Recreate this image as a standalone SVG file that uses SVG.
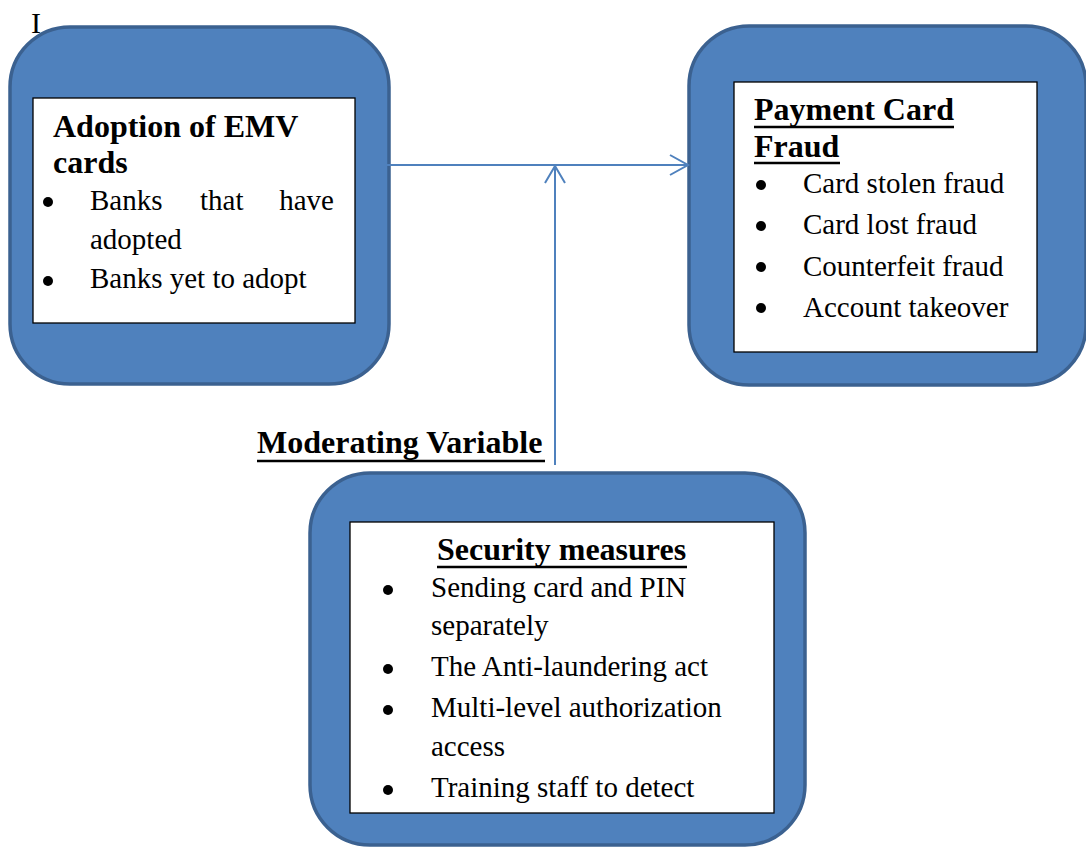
<svg xmlns="http://www.w3.org/2000/svg" width="1086" height="848" viewBox="0 0 1086 848">
<style>
.outer{fill:#4F81BD;stroke:#3B6190;stroke-width:3.5}
.inner{fill:#FFFFFF;stroke:#000000;stroke-width:1.3}
.h{font-family:"Liberation Serif","Times New Roman",serif;font-size:32px;font-weight:bold;fill:#000}
.t{font-family:"Liberation Serif","Times New Roman",serif;font-size:29px;fill:#000}
.b{fill:#000}
.u{stroke:#000;stroke-width:2.5}
.c{fill:none;stroke:#4F81BD;stroke-width:2}
</style>
<rect width="1086" height="848" fill="#FFFFFF"/>
<text class="t" x="31" y="33" style="font-size:30px">I</text>
<g id="node-adoption">
<rect class="outer" x="10" y="27" width="379" height="357" rx="60" ry="60"/>
<rect class="inner" x="33" y="98" width="322" height="225"/>
<text class="h" x="53" y="137">Adoption of EMV</text>
<text class="h" x="53" y="173">cards</text>
<circle class="b" cx="48" cy="202" r="5"/>
<text class="t" x="90" y="210">Banks</text>
<text class="t" x="200" y="210">that</text>
<text class="t" x="334" y="210" text-anchor="end">have</text>
<text class="t" x="90" y="249">adopted</text>
<circle class="b" cx="48" cy="281" r="5"/>
<text class="t" x="90" y="288">Banks yet to adopt</text>
</g>
<g id="node-fraud">
<rect class="outer" x="689" y="26" width="397" height="359" rx="60" ry="60"/>
<rect class="inner" x="734" y="82" width="303" height="270"/>
<text class="h" x="754" y="120">Payment Card</text>
<line class="u" x1="754" y1="127" x2="954" y2="127"/>
<text class="h" x="754" y="157">Fraud</text>
<line class="u" x1="754" y1="163" x2="840" y2="163"/>
<circle class="b" cx="761" cy="185" r="5"/>
<text class="t" x="803" y="193">Card stolen fraud</text>
<circle class="b" cx="761" cy="226" r="5"/>
<text class="t" x="803" y="234">Card lost fraud</text>
<circle class="b" cx="761" cy="267" r="5"/>
<text class="t" x="803" y="276">Counterfeit fraud</text>
<circle class="b" cx="761" cy="308" r="5"/>
<text class="t" x="803" y="317">Account takeover</text>
</g>
<g id="node-security">
<rect class="outer" x="310" y="473" width="495" height="372" rx="60" ry="60"/>
<rect class="inner" x="350" y="522" width="424" height="291"/>
<text class="h" x="437" y="560">Security measures</text>
<line class="u" x1="437" y1="567" x2="687" y2="567"/>
<circle class="b" cx="388" cy="590" r="5"/>
<text class="t" x="431" y="597">Sending card and PIN</text>
<text class="t" x="431" y="635">separately</text>
<circle class="b" cx="388" cy="669" r="5"/>
<text class="t" x="431" y="676">The Anti-laundering act</text>
<circle class="b" cx="388" cy="710" r="5"/>
<text class="t" x="431" y="717">Multi-level authorization</text>
<text class="t" x="431" y="756">access</text>
<circle class="b" cx="388" cy="790" r="5"/>
<text class="t" x="431" y="797">Training staff to detect</text>
</g>
<g id="label-moderating">
<text class="h" x="257" y="453">Moderating Variable</text>
<line class="u" x1="257" y1="461" x2="545" y2="461"/>
</g>
<g id="connectors">
<line class="c" x1="356" y1="165" x2="687" y2="165"/>
<polyline class="c" points="670,155 688,165 670,175"/>
<line class="c" x1="555" y1="465" x2="555" y2="167"/>
<polyline class="c" points="545,183 555,166 565,183"/>
</g>
</svg>
